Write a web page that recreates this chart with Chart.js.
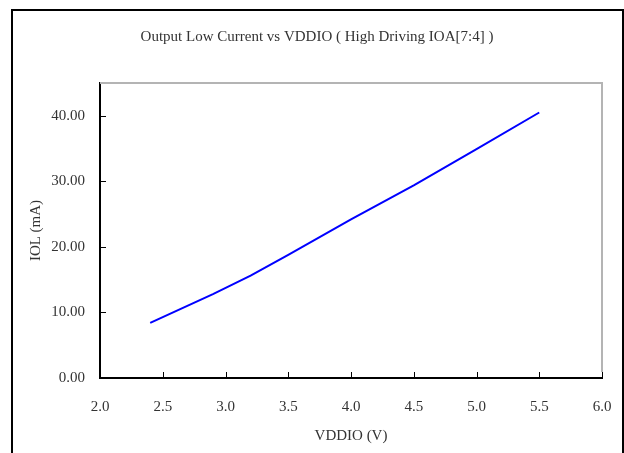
<!DOCTYPE html>
<html>
<head>
<meta charset="utf-8">
<script src="https://cdn.jsdelivr.net/npm/chart.js@4.4.0/dist/chart.umd.min.js"></script>
<style>
  html, body { margin: 0; padding: 0; background: #fff; }
  #wrap { width: 624px; height: 453px; }
</style>
</head>
<body>
<div id="wrap"><canvas id="iol-chart" width="624" height="453"></canvas></div>
<script>
// Output low current measured against VDDIO
const vddio = [2.4, 2.9, 3.2, 3.5, 4.0, 4.5, 5.0, 5.5];
const iol = [8.4, 12.8, 15.6, 18.8, 24.2, 29.4, 34.9, 40.5];
const xTicks = [2.0, 2.5, 3.0, 3.5, 4.0, 4.5, 5.0, 5.5, 6.0];
const yTicks = [0, 10, 20, 30, 40];

const fontFamily = "'Liberation Serif', 'Times New Roman', serif";
const textColor = '#333333';

// Frame, gray plot border and inward tick marks
const framePlugin = {
    id: 'frame',
    afterDraw(chart) {
        const ctx = chart.ctx;
        const area = chart.chartArea;
        const xs = chart.scales.x;
        const ys = chart.scales.y;
        ctx.save();

        // outer frame
        ctx.strokeStyle = '#000';
        ctx.lineWidth = 2;
        ctx.strokeRect(12, 10, 611, 460);

        // gray top / right border of plot
        ctx.strokeStyle = '#b4b4b4';
        ctx.lineWidth = 2;
        ctx.beginPath();
        ctx.moveTo(area.left, area.top);
        ctx.lineTo(area.right, area.top);
        ctx.lineTo(area.right, area.bottom - 6);
        ctx.stroke();

        // tick marks pointing into the plot
        ctx.strokeStyle = '#000';
        ctx.lineWidth = 1;
        ctx.beginPath();
        xTicks.forEach(v => {
            const px = Math.round(xs.getPixelForValue(v)) + 0.5;
            ctx.moveTo(px, area.bottom);
            ctx.lineTo(px, area.bottom - 6);
        });
        yTicks.forEach(v => {
            const py = Math.round(ys.getPixelForValue(v)) + 0.5;
            ctx.moveTo(area.left, py);
            ctx.lineTo(area.left + 6, py);
        });
        ctx.stroke();
        ctx.restore();
    }
};

new Chart(document.getElementById('iol-chart'), {
    type: 'line',
    data: {
        datasets: [{
            label: 'IOL',
            data: vddio.map((v, i) => ({ x: v, y: iol[i] })),
            borderColor: '#0000ff',
            borderWidth: 2,
            pointRadius: 0,
            tension: 0,
            fill: false
        }]
    },
    options: {
        responsive: false,
        animation: false,
        devicePixelRatio: 1,
        layout: { padding: { left: 32, right: 22, top: 0, bottom: 0 } },
        plugins: {
            legend: { display: false },
            tooltip: { enabled: false },
            title: {
                display: true,
                text: 'Output Low Current vs VDDIO ( High Driving IOA[7:4] )',
                color: textColor,
                font: { family: fontFamily, size: 15, weight: 'normal', lineHeight: 1.2 },
                padding: { top: 28, bottom: 37 }
            }
        },
        scales: {
            x: {
                type: 'linear',
                min: 2,
                max: 6,
                afterBuildTicks: s => { s.ticks = xTicks.map(v => ({ value: v })); },
                afterFit: s => { s.height = 75; s.paddingLeft = 0; s.paddingRight = 0; },
                grid: { display: false, drawTicks: false },
                border: { display: true, color: '#000', width: 2 },
                ticks: {
                    padding: 20,
                    color: textColor,
                    font: { family: fontFamily, size: 15 },
                    callback: v => Number(v).toFixed(1)
                },
                title: {
                    display: true,
                    text: 'VDDIO (V)',
                    color: textColor,
                    font: { family: fontFamily, size: 15, lineHeight: 1.2 },
                    padding: { top: 0, bottom: 8 }
                }
            },
            y: {
                type: 'linear',
                min: 0,
                max: 45,
                afterBuildTicks: s => { s.ticks = yTicks.map(v => ({ value: v })); },
                afterFit: s => { s.width = 68; },
                grid: { display: false, drawTicks: false },
                border: { display: true, color: '#000', width: 2 },
                ticks: {
                    padding: 15,
                    color: textColor,
                    font: { family: fontFamily, size: 15 },
                    callback: v => Number(v).toFixed(2)
                },
                title: {
                    display: true,
                    text: 'IOL (mA)',
                    color: textColor,
                    font: { family: fontFamily, size: 15, lineHeight: 1.2 },
                    padding: { top: -5, bottom: 0 }
                }
            }
        }
    },
    plugins: [framePlugin]
});
</script>
</body>
</html>
